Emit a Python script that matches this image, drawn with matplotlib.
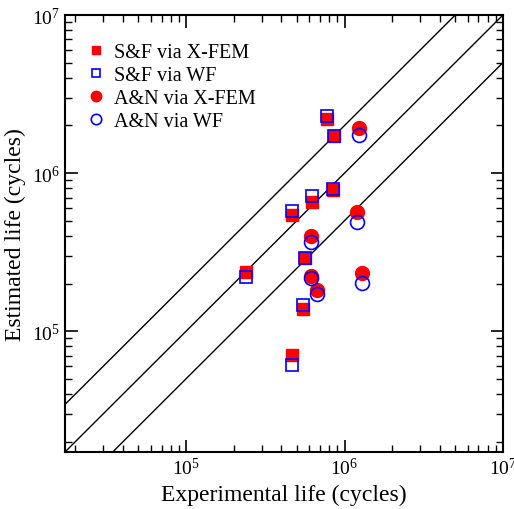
import matplotlib
matplotlib.use("Agg")
import matplotlib.pyplot as plt
import numpy as np

plt.rcParams['font.family'] = ['Liberation Serif', 'DejaVu Serif']
plt.rcParams['mathtext.fontset'] = 'stix'

# S&F data, experimental vs estimated life
sf_exp = [2.39e5, 4.64e5, 6.21e5, 5.63e5, 5.44e5, 4.64e5, 7.72e5, 8.63e5, 8.5e5]
sf_xfem = [2.36e5, 5.42e5, 6.53e5, 2.89e5, 1.38e5, 7.11e4, 2.2e6, 1.72e6, 7.83e5]
sf_wf = [2.21e5, 5.74e5, 7.13e5, 2.9e5, 1.46e5, 6.1e4, 2.29e6, 1.72e6, 7.9e5]

# A&N data
an_exp = [1.23e6, 1.19e6, 6.12e5, 6.12e5, 6.68e5, 1.28e6]
an_xfem = [1.92e6, 5.69e5, 4.01e5, 2.22e5, 1.82e5, 2.32e5]
an_wf = [1.74e6, 4.88e5, 3.64e5, 2.16e5, 1.71e5, 2.03e5]

lo, hi = 1.72e4, 1e7

fig = plt.figure(figsize=(5.14, 5.10), dpi=100)
ax = fig.add_axes([0.1265, 0.1118, 0.852, 0.8568])

# scatter bands: y = 2x, y = x, y = x/2
xl = np.array([lo, hi])
for f in [2.0, 1.0, 0.5]:
    ax.plot(xl, xl * f, color='black', lw=1.0, zorder=1)

ax.plot(sf_exp, sf_xfem, 's', color='red', ms=8, mec='red', label='S&F via X-FEM', zorder=3)
ax.plot(sf_exp, sf_wf, 's', color='blue', mfc='none', ms=8, mew=1.2, label='S&F via WF', zorder=4)
ax.plot(an_exp, an_xfem, 'o', color='red', ms=10, label='A&N via X-FEM', zorder=3)
ax.plot(an_exp, an_wf, 'o', color='blue', mfc='none', ms=10, mew=1.2, label='A&N via WF', zorder=4)

ax.set_xscale('log')
ax.set_yscale('log')
ax.set_xlim(lo, hi)
ax.set_ylim(lo, hi)

ax.tick_params(which='both', direction='in', top=True, right=True, labelsize=14)
ax.tick_params(which='major', length=9, width=1.2)
ax.tick_params(which='minor', length=5, width=1.0)
for s in ax.spines.values():
    s.set_linewidth(1.5)

ax.set_xlabel('Experimental life (cycles)', fontsize=17)
ax.set_ylabel('Estimated life (cycles)', fontsize=17)

ax.legend(loc='upper left', frameon=False, fontsize=14.5, handletextpad=0.4,
          borderaxespad=0.0, labelspacing=0.2, handlelength=1.0,
          markerscale=0.75, bbox_to_anchor=(0.03, 0.955))

fig.savefig('out.png', dpi=100)
